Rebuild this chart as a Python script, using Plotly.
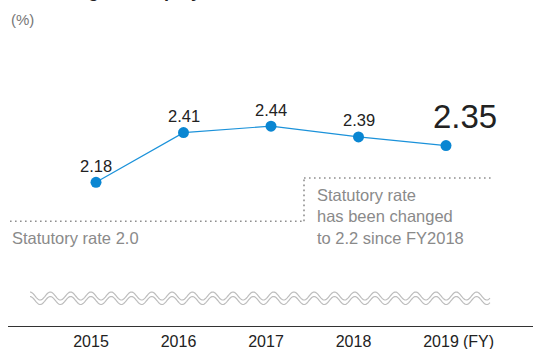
import plotly.graph_objects as go
import numpy as np

# Data
years = ["2015", "2016", "2017", "2018", "2019"]
rates = [2.18, 2.41, 2.44, 2.39, 2.35]
statutory_old = 2.0
statutory_new = 2.2

W, H = 533, 349
ML, MB = 8, 23
PLOT_W, PLOT_H = W - ML, H - MB

# Axis scales: 87.5 px per year, 216 px per percentage point
X_RANGE = [-1.00571, 4.99429]
Y_RANGE = [1.5147, 3.0240]


def px_x(p):
    return X_RANGE[0] + (p - ML) / PLOT_W * (X_RANGE[1] - X_RANGE[0])


def px_y(p):
    return Y_RANGE[1] - p / PLOT_H * (Y_RANGE[1] - Y_RANGE[0])


xs = list(range(len(years)))
BLUE = "#0a86d2"
GREY = "#8a8a8a"
DARK = "#222222"
FONT = "Liberation Sans, Arial, sans-serif"

fig = go.Figure()
fig.add_trace(go.Scatter(
    x=xs, y=rates, mode="lines+markers",
    line=dict(color="#1b92da", width=1.2),
    marker=dict(color=BLUE, size=11),
    hoverinfo="skip", showlegend=False,
))

shapes = []
dot = dict(color="#8f8f8f", width=1.6, dash="1.6px,3.4px")
x_left, x_step, x_right = px_x(10), px_x(304), px_x(493)
shapes.append(dict(type="line", xref="x", yref="y", x0=x_left, x1=x_step,
                   y0=statutory_old, y1=statutory_old, line=dot))
shapes.append(dict(type="line", xref="x", yref="y", x0=x_step, x1=x_step,
                   y0=statutory_old, y1=statutory_new, line=dot))
shapes.append(dict(type="line", xref="x", yref="y", x0=x_step, x1=x_right,
                   y0=statutory_new, y1=statutory_new, line=dot))

# Axis-break wave (two parallel wavy strokes)
t = np.linspace(30, 490, 600)
for base in (296.0, 300.5):
    yy = base - 4.0 * np.sin((t - 30) / 20.3 * 2 * np.pi + np.pi / 2)
    path = "M " + " L ".join(f"{px_x(a):.5f},{px_y(b):.5f}" for a, b in zip(t, yy))
    shapes.append(dict(type="path", xref="x", yref="y", path=path,
                       line=dict(color="#bdbdbd", width=1.2)))

ann = []
for i, (x, v) in enumerate(zip(xs, rates)):
    last = i == len(rates) - 1
    ann.append(dict(
        x=x, y=v, xref="x", yref="y", text=f"{v:.2f}", showarrow=False,
        xanchor="center", yanchor="middle",
        xshift=19 if last else 0, yshift=29 if last else 16.5,
        font=dict(family=FONT, size=33 if last else 16.5, color=DARK),
    ))

ann.append(dict(x=px_x(10), y=statutory_old, xref="x", yref="y",
                text="Statutory rate 2.0", showarrow=False,
                xanchor="left", yanchor="middle", yshift=-17,
                font=dict(family=FONT, size=16.5, color=GREY)))
ann.append(dict(x=px_x(315), y=statutory_new, xref="x", yref="y",
                text="Statutory rate<br>has been changed<br>to 2.2 since FY2018",
                showarrow=False, align="left",
                xanchor="left", yanchor="middle", yshift=-39,
                font=dict(family=FONT, size=16.5, color=GREY)))
ann.append(dict(x=0, y=1, xref="paper", yref="paper", text="(%)",
                showarrow=False, xanchor="left", yanchor="middle",
                xshift=1, yshift=-19,
                font=dict(family=FONT, size=15, color="#777777")))
ann.append(dict(x=len(years) - 1, y=0, xref="x", yref="paper", text="(FY)",
                showarrow=False, xanchor="center", yanchor="middle",
                xshift=32, yshift=-15,
                font=dict(family=FONT, size=16, color=DARK)))
ann.append(dict(x=0, y=1, xref="paper", yref="paper",
                text="<b>Percentage of Employees with Disabilities</b>",
                showarrow=False, xanchor="left", yanchor="bottom",
                xshift=2, yshift=-3.5,
                font=dict(family=FONT, size=18, color=DARK)))

fig.update_layout(
    width=W, height=H,
    margin=dict(l=ML, r=0, t=0, b=MB, pad=0, autoexpand=False),
    paper_bgcolor="white", plot_bgcolor="white",
    shapes=shapes, annotations=ann,
    xaxis=dict(range=X_RANGE, tickvals=xs, ticktext=years,
               automargin=False,
               showgrid=False, zeroline=False, showline=True,
               linecolor="#333333", linewidth=1.2, ticks="",
               ticklabelshift=-5, ticklabelstandoff=1,
               tickfont=dict(family=FONT, size=16, color=DARK)),
    yaxis=dict(range=Y_RANGE, visible=False, automargin=False),
)

fig.write_html("out.html")
